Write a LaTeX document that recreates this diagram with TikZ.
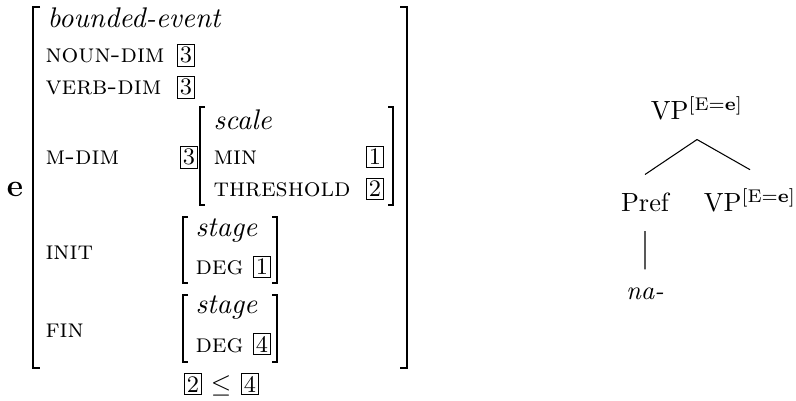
\documentclass[tikz,border=0pt]{standalone}
\usepackage{amsmath}
\begin{document}
\begin{tikzpicture}[x=0.38pt,y=-0.38pt,
  attr/.style={font=\fontsize{10}{12}\selectfont\scshape,anchor=base west,inner sep=0pt},
  typ/.style={font=\fontsize{10.8}{13}\selectfont\itshape,anchor=base west,inner sep=0pt},
  tag/.style={draw,line width=0.4pt,inner sep=1pt,font=\small,anchor=base},
  brk/.style={line width=0.8pt},
  tnode/.style={inner sep=7pt,anchor=base}]
\useasboundingbox (0,0) rectangle (796,401);

% feature structure
\node[font=\large\bfseries,anchor=base,inner sep=0pt](e) at (15,197) {e};
\draw[brk] (40,7) -| (33,368) -- (40,368);
\draw[brk] (400,7) -| (407,368) -- (400,368);

\node[typ](bev) at (47,28) {bounded-event};
\node[attr](ndim) at (45,63) {noun-dim};
\node[tag](t3a) at (186,63) {3};
\node[attr](vdim) at (45,95) {verb-dim};
\node[tag](t3b) at (186,95) {3};

\node[attr](mdim) at (45,165) {m-dim};
\node[tag](t3c) at (189,165) {3};
\draw[brk] (205,107) -| (200,205) -- (205,205);
\draw[brk] (388,107) -| (393,205) -- (388,205);
\node[typ](scl) at (213,130) {scale};
\node[attr](min) at (213,165) {min};
\node[tag](t1a) at (375,165) {1};
\node[attr](thr) at (213,197) {threshold};
\node[tag](t2a) at (375,197) {2};

\node[attr](init) at (45,260) {init};
\draw[brk] (188,217) -| (183,283) -- (188,283);
\draw[brk] (272,217) -| (277,283) -- (272,283);
\node[typ](stg1) at (195,237) {stage};
\node[attr](deg1) at (195,275) {deg};
\node[tag](t1b) at (262,275) {1};

\node[attr](fin) at (45,337) {fin};
\draw[brk] (188,295) -| (183,362) -- (188,362);
\draw[brk] (272,295) -| (277,362) -- (272,362);
\node[typ](stg2) at (195,313) {stage};
\node[attr](deg2) at (195,352) {deg};
\node[tag](t4a) at (262,352) {4};

\node[tag](t2b) at (193,392) {2};
\node[anchor=base,inner sep=0pt](leq) at (221,392) {$\leq$};
\node[tag](t4b) at (250,392) {4};

% tree
\node[tnode](vp) at (697,120) {VP\textsuperscript{[E=\textbf{e}]}};
\node[tnode](pref) at (645,212) {Pref};
\node[tnode](vpb) at (750,212) {VP\textsuperscript{[E=\textbf{e}]}};
\node[tnode](na) at (645,300) {\textit{na-}};

\draw[line width=0.4pt] (vp.south) -- (pref.north)
      (vp.south) -- (vpb.north)
      (pref.south) -- (na.north);
\end{tikzpicture}
\end{document}
